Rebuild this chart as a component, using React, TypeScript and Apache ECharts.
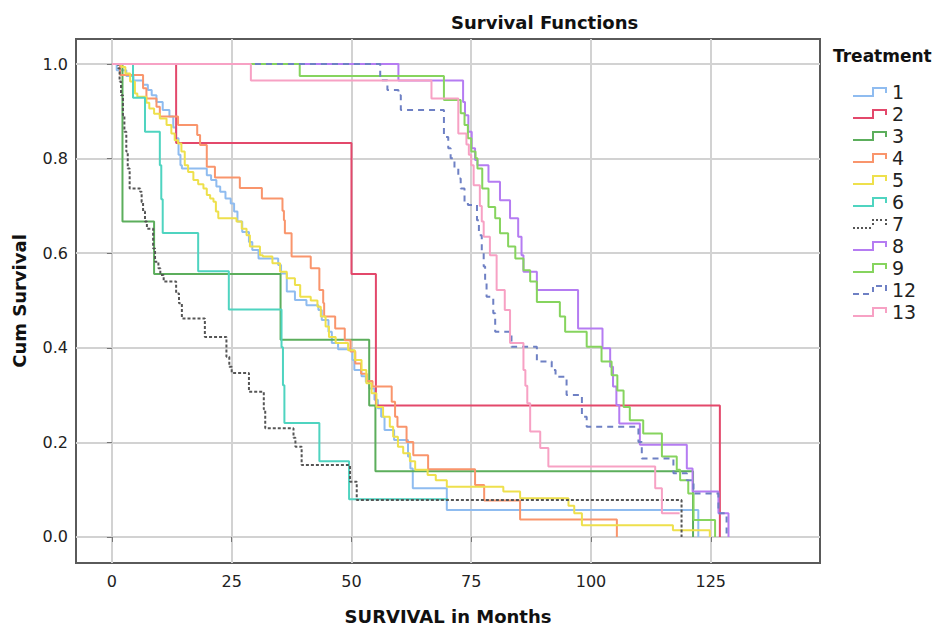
import React, { useEffect, useRef } from "react";
import * as echarts from "echarts";

// Kaplan-Meier step data: [months, cumulative survival after event]
const g1 = [[0,1],[1.0,0.987],[3.0,0.975],[4.5,0.965],[6.5,0.956],[7.5,0.945],[8.3,0.934],[9.3,0.920],[10.6,0.903],[12.0,0.889],[12.8,0.866],[13.4,0.843],[13.9,0.808],[14.3,0.786],[14.6,0.779],[19.8,0.765],[20.7,0.755],[21.8,0.741],[22.6,0.73],[23.7,0.716],[24.8,0.705],[25.5,0.688],[26.2,0.667],[27.2,0.645],[28.6,0.624],[29.3,0.607],[30.6,0.589],[34.7,0.575],[35.3,0.557],[36.5,0.519],[38.2,0.501],[40.6,0.490],[43.1,0.480],[43.8,0.459],[45.2,0.434],[45.9,0.41],[47.2,0.397],[50.2,0.374],[50.6,0.353],[52.1,0.34],[53.0,0.328],[53.7,0.314],[54.8,0.29],[55.5,0.272],[56.2,0.254],[56.9,0.226],[58.9,0.205],[61.8,0.17],[62.3,0.145],[62.8,0.103],[69.9,0.057],[122.4,0]];
const g2 = [[0,1],[13.4,0.833],[50.0,0.556],[55.1,0.278],[126.9,0]];
const g3 = [[0,1],[2.2,0.667],[8.8,0.556],[35.2,0.417],[53.7,0.278],[55.0,0.139],[121.3,0]];
const g4 = [[0,1],[1.7,0.977],[6.5,0.949],[7.2,0.927],[9.3,0.910],[10.0,0.889],[13.8,0.871],[17.8,0.850],[18.4,0.829],[19.8,0.783],[21.5,0.760],[26.7,0.738],[31.3,0.716],[35.6,0.69],[35.9,0.67],[36.1,0.642],[37.5,0.593],[41.5,0.568],[43.3,0.522],[44.1,0.495],[44.3,0.466],[46.6,0.441],[48.6,0.416],[49.8,0.392],[50.8,0.367],[52.0,0.345],[53.2,0.33],[54.4,0.318],[58.4,0.286],[59.1,0.254],[59.6,0.233],[61.5,0.201],[62.9,0.173],[66.0,0.143],[75.8,0.110],[77.7,0.077],[85.2,0.037],[105.4,0]];
const g5 = [[0,1],[2.0,0.994],[2.8,0.98],[3.8,0.963],[4.8,0.938],[5.3,0.931],[7.2,0.918],[7.8,0.906],[8.8,0.895],[10.0,0.885],[11.4,0.871],[12.4,0.853],[13.1,0.839],[13.8,0.832],[14.5,0.815],[15.2,0.786],[15.9,0.772],[17.0,0.755],[18.0,0.746],[19.1,0.737],[19.8,0.723],[20.5,0.716],[21.2,0.709],[21.7,0.688],[22.2,0.674],[26.0,0.667],[27.1,0.652],[28.1,0.638],[28.8,0.614],[30.9,0.596],[31.5,0.593],[33.5,0.579],[35.1,0.561],[36.5,0.547],[38.2,0.533],[39.3,0.508],[41.5,0.5],[42.9,0.487],[43.6,0.466],[44.6,0.445],[45.3,0.423],[46.7,0.41],[49.3,0.395],[50.7,0.374],[52.1,0.353],[53.1,0.325],[54.2,0.304],[55.2,0.275],[56.6,0.254],[58.0,0.233],[58.7,0.212],[59.7,0.191],[60.8,0.177],[62.2,0.16],[63.3,0.142],[65.9,0.131],[67.6,0.12],[69.9,0.106],[81.7,0.096],[85.2,0.082],[95.3,0.066],[96.5,0.05],[98.1,0.025],[117.1,0.014],[124.8,0]];
const g6 = [[0,1],[4.4,0.929],[6.9,0.857],[10.0,0.786],[10.3,0.714],[10.6,0.643],[18.0,0.562],[24.4,0.481],[35.4,0.401],[35.7,0.321],[36.0,0.241],[43.3,0.160],[49.5,0.080],[70.2,0.080]];
const g7 = [[0,1],[1.3,0.991],[1.6,0.963],[1.9,0.934],[2.3,0.892],[2.6,0.857],[3.0,0.815],[3.3,0.779],[3.7,0.737],[5.9,0.730],[6.2,0.708],[6.5,0.688],[6.9,0.667],[7.3,0.652],[8.6,0.61],[9.0,0.582],[9.7,0.568],[10.1,0.554],[10.8,0.540],[13.4,0.515],[14.0,0.494],[14.6,0.462],[19.4,0.423],[23.9,0.381],[24.5,0.36],[25.0,0.347],[28.6,0.307],[31.7,0.27],[32.0,0.23],[37.9,0.21],[38.3,0.191],[39.6,0.152],[49.7,0.117],[51.1,0.078],[118.9,0]];
const g8 = [[0,1],[59.8,0.965],[73.3,0.920],[73.7,0.892],[74.4,0.857],[75.1,0.822],[75.8,0.797],[76.3,0.786],[78.6,0.751],[81.0,0.712],[83.1,0.674],[84.8,0.635],[85.5,0.596],[85.9,0.561],[88.7,0.522],[97.3,0.441],[102.4,0.399],[104.0,0.36],[104.6,0.318],[105.3,0.279],[105.9,0.240],[110.2,0.195],[120.0,0.145],[121.2,0.096],[126.6,0.05],[128.7,0]];
const g9 = [[0,1],[39.2,0.975],[69.3,0.924],[72.8,0.896],[73.6,0.871],[74.3,0.843],[75.0,0.815],[75.9,0.801],[76.3,0.779],[77.3,0.737],[78.6,0.698],[80.0,0.674],[81.0,0.642],[82.7,0.614],[84.2,0.589],[85.9,0.564],[87.3,0.540],[88.7,0.497],[93.5,0.466],[94.6,0.434],[99.1,0.402],[102.2,0.371],[104.3,0.342],[105.5,0.31],[106.8,0.275],[108.1,0.247],[110.9,0.219],[114.8,0.170],[117.9,0.142],[118.6,0.12],[120.3,0.092],[121.4,0.036],[125.9,0]];
const g12 = [[0,1],[56.0,0.966],[57.5,0.945],[59.8,0.934],[60.3,0.903],[69.3,0.846],[70.2,0.822],[70.7,0.801],[71.5,0.78],[72.3,0.758],[72.8,0.737],[73.6,0.709],[74.3,0.702],[76.2,0.67],[76.6,0.638],[77.2,0.6],[77.6,0.572],[77.9,0.543],[78.2,0.508],[79.6,0.473],[80.0,0.434],[83.4,0.402],[88.7,0.371],[91.8,0.353],[92.6,0.339],[94.9,0.300],[98.1,0.254],[99.1,0.233],[109.9,0.201],[110.6,0.166],[117.2,0.135],[120.0,0.12],[121.4,0.092],[126.6,0.05],[128.3,0]];
const g13 = [[0,1],[29.0,0.965],[66.7,0.927],[72.3,0.853],[74.0,0.83],[74.5,0.808],[75.0,0.786],[75.5,0.744],[76.8,0.70],[77.2,0.667],[77.6,0.635],[78.9,0.596],[80.3,0.522],[82.0,0.480],[83.1,0.41],[85.9,0.353],[86.3,0.32],[86.7,0.283],[87.3,0.223],[89.4,0.188],[91.1,0.149],[113.4,0.103],[114.8,0.050],[118.5,0.05]];

const treatments = ["1", "2", "3", "4", "5", "6", "7", "8", "9", "12", "13"];
const groups = [g1, g2, g3, g4, g5, g6, g7, g8, g9, g12, g13];
const colors = ["#8fbcf0", "#e3486b", "#5cae5c", "#f9956c", "#eee04c", "#4fd4c0", "#555555", "#b57cf2", "#86d45e", "#6e80c4", "#f7a1c4"];
const lineTypes: any[] = ["solid", "solid", "solid", "solid", "solid", "solid", [3, 2], "solid", "solid", [6, 5], "solid"];

const xTicks = [0, 25, 50, 75, 100, 125];
const yTicks = [0, 0.2, 0.4, 0.6, 0.8, 1.0];

const FONT = "'DejaVu Sans', 'Liberation Sans', sans-serif";

const solidIcon = "path://M0,8H19V0H34V6H32V2H21V10H0Z";
function sq(x: number, y: number) {
  return `M${x},${y}h2v2h-2z`;
}
const dottedIcon =
  "path://" +
  [sq(0, 8), sq(4, 8), sq(8, 8), sq(12, 8), sq(16, 8), sq(19, 4), sq(19, 0), sq(23, 0), sq(27, 0), sq(32, 0), sq(32, 4)].join("");
const dashedIcon = "path://M0,8h6v2h-6z M10,8h6v2h-6z M19,2h2v5h-2z M23,0h6v2h-6z M32,0h2v6h-2z";
const icons = treatments.map((t, i) => (i === 6 ? dottedIcon : i === 9 ? dashedIcon : solidIcon));

export default function App() {
  const ref = useRef<HTMLDivElement>(null);
  useEffect(() => {
    if (!ref.current) return;
    const chart = echarts.init(ref.current, undefined, { renderer: "svg" });
    const series = groups.map((g, i) => ({
      name: treatments[i],
      type: "line",
      step: "end",
      data: g,
      showSymbol: false,
      symbol: "none",
      color: colors[i],
      lineStyle: { color: colors[i], width: 2, type: lineTypes[i] },
      emphasis: { disabled: true },
    }));
    chart.setOption({
      animation: false,
      backgroundColor: "#ffffff",
      title: {
        text: "Survival Functions",
        left: 446,
        top: 8,
        textStyle: { fontFamily: FONT, fontSize: 18, fontWeight: "bold", color: "#111" },
      },
      grid: {
        left: 76,
        right: 117,
        top: 39,
        bottom: 67,
        show: true,
        borderColor: "#5a5a5a",
        borderWidth: 2,
        backgroundColor: "#ffffff",
      },
      legend: {
        orient: "vertical",
        left: 853,
        top: 81,
        padding: 0,
        itemGap: 0,
        itemWidth: 34,
        itemHeight: 10,
        itemStyle: { borderWidth: 0 },
        textStyle: { fontFamily: FONT, fontSize: 19, color: "#222", lineHeight: 22 },
        data: treatments.map((t, i) => ({ name: t, icon: icons[i] })),
        selectedMode: false,
      },
      graphic: [
        {
          type: "text",
          left: 833,
          top: 47,
          style: { text: "Treatment", font: `bold 17px ${FONT}`, fill: "#111" },
        },
      ],
      xAxis: {
        type: "value",
        min: -7.5,
        max: 147.8,
        name: "SURVIVAL in Months",
        nameLocation: "middle",
        nameGap: 44,
        nameTextStyle: { fontFamily: FONT, fontSize: 18, fontWeight: "bold", color: "#111" },
        axisLine: { show: false },
        axisTick: { show: true, length: 5, customValues: xTicks, lineStyle: { color: "#777" } },
        axisLabel: {
          customValues: xTicks,
          margin: 10,
          fontFamily: FONT,
          fontSize: 16,
          color: "#222",
        },
        splitLine: { show: true, lineStyle: { color: "#d2d2d2", width: 2 } },
      },
      yAxis: {
        type: "value",
        min: -0.055,
        max: 1.053,
        name: "Cum Survival",
        nameLocation: "middle",
        nameGap: 48,
        nameTextStyle: { fontFamily: FONT, fontSize: 18, fontWeight: "bold", color: "#111" },
        axisLine: { show: false },
        axisTick: { show: true, length: 5, customValues: yTicks, lineStyle: { color: "#777" } },
        axisLabel: {
          customValues: yTicks,
          margin: 8,
          fontFamily: FONT,
          fontSize: 16,
          color: "#222",
          formatter: (v: number) => v.toFixed(1),
        },
        splitLine: { show: true, lineStyle: { color: "#d2d2d2", width: 2 } },
      },
      series,
    });
    return () => chart.dispose();
  }, []);
  return <div ref={ref} style={{ width: 937, height: 630, position: "absolute", left: 0, top: 0 }} />;
}
